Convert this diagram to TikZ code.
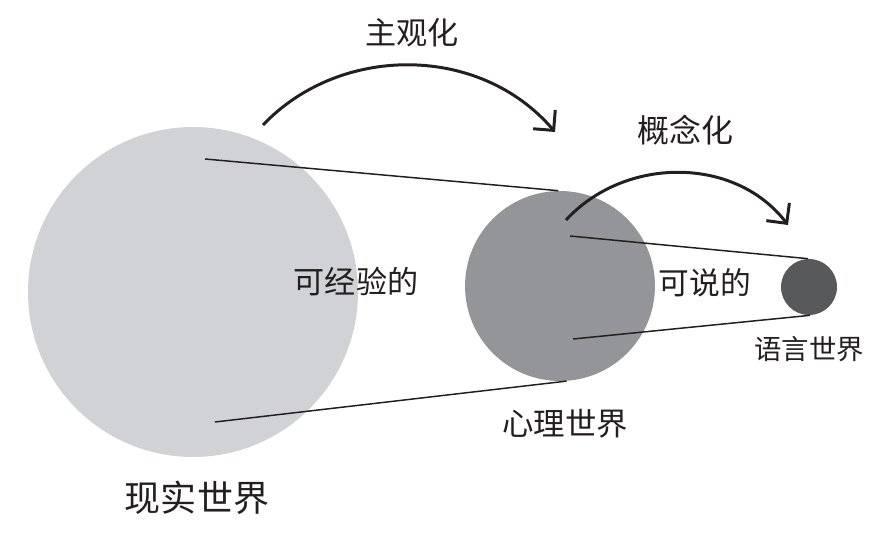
\documentclass[tikz,border=0pt]{standalone}
\usepackage{fontspec}
\setmainfont{Noto Sans CJK SC}
\usetikzlibrary{arrows.meta,positioning}
\definecolor{realgray}{HTML}{D0D2D5}
\definecolor{mindgray}{HTML}{939598}
\definecolor{langgray}{HTML}{58595B}
\definecolor{inkgray}{HTML}{231F20}
\tikzset{
  world/.style={circle, draw=none, inner sep=0pt},
  lbl/.style={text=inkgray, inner sep=0pt, font=\fontsize{17.7pt}{20pt}\selectfont},
  conn/.style={draw=inkgray, line width=0.85pt},
  arr/.style={draw=inkgray, line width=1.7pt, -{Straight Barb[angle=90:10pt 1, line width=1.7pt]}}}

\begin{document}
\begin{tikzpicture}[x=0.02cm, y=-0.02cm]
  \useasboundingbox (0,0) rectangle (891,533);
  \node[world, fill=realgray, minimum size=6.6cm] (real) at (193,292) {};
  \node[world, fill=mindgray, minimum size=3.8cm] (mind) at (560,286) {};
  \node[world, fill=langgray, minimum size=1.12cm] (lang) at (809,287) {};
  \coordinate (r1) at (205,159);
  \coordinate (r2) at (215,422);
  \coordinate (m1) at (570,236);
  \coordinate (m2) at (573,339);
  \draw[conn] (r1) -- (mind.91);
  \draw[conn] (r2) -- (mind.274);
  \draw[conn] (m1) -- (lang.92);
  \draw[conn] (m2) -- (lang.272);
  % arcs
  \coordinate (a1s) at (263,125);
  \coordinate (a1e) at (555,132);
  \coordinate (a2s) at (566,220);
  \coordinate (a2e) at (788,225);
  \draw[arr] (a1s) .. controls (340,44) and (480,44) .. (a1e);
  \draw[arr] (a2s) .. controls (625,156) and (735,156) .. (a2e);
  % labels
  \node[lbl] (subj) at (412,33) {主观化};
  \node[lbl, font=\fontsize{18.2pt}{20pt}\selectfont] (conc) at (685,130) {概念化};
  \node[lbl] (exp) at (356,282) {可经验的};
  \node[lbl, font=\fontsize{17.5pt}{20pt}\selectfont] (say) at (705,283) {可说的};
  \node[lbl, font=\fontsize{15.6pt}{18pt}\selectfont] (langtxt) at (809,349) {语言世界};
  \node[lbl, font=\fontsize{17.9pt}{20pt}\selectfont] (mindtxt) at (565,424) {心理世界};
  \node[lbl, font=\fontsize{20.5pt}{23pt}\selectfont] (realtxt) at (197,498) {现实世界};
\end{tikzpicture}
\end{document}
